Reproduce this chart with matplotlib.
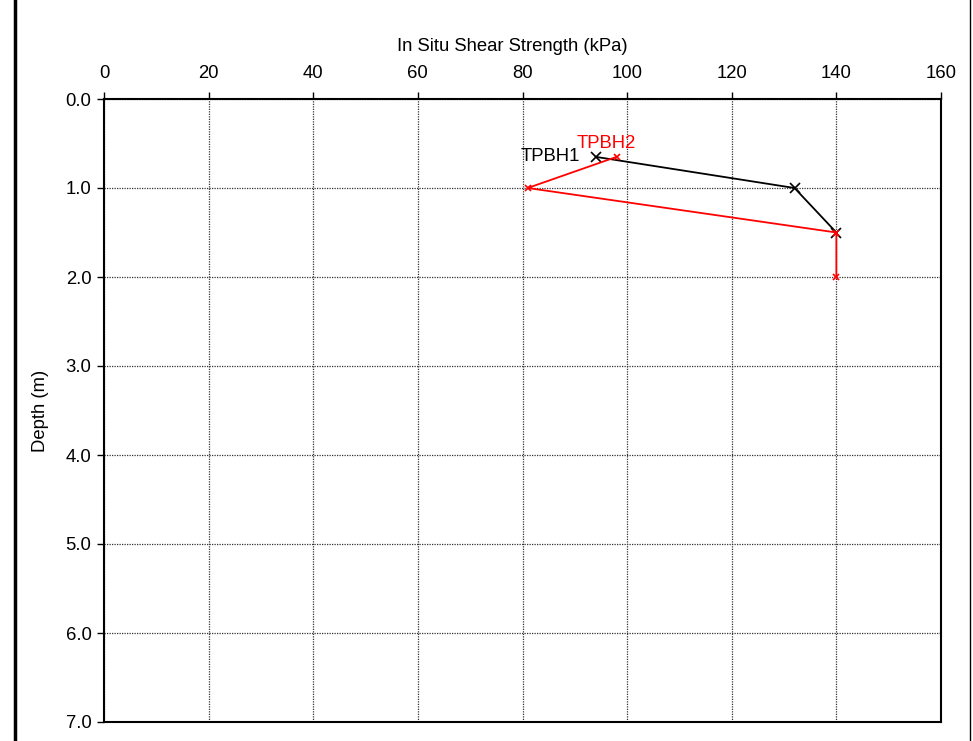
import numpy as np
import matplotlib.pyplot as plt
from matplotlib.lines import Line2D

plt.rcParams['font.family'] = ['Liberation Sans', 'DejaVu Sans']

## data
tpbh1_strength = [94, 132, 140]
tpbh1_depth = [0.65, 1.0, 1.5]
tpbh2_strength = [98, 81, 140, 140]
tpbh2_depth = [0.65, 1.0, 1.5, 2.0]

x_ticks = [0, 20, 40, 60, 80, 100, 120, 140, 160]
y_ticks = [0, 1, 2, 3, 4, 5, 6, 7]

fs = 13.3

fig = plt.figure(figsize=(9.73, 7.41), dpi=100)
ax = fig.add_axes([104/973, 1-722/741, (941-104)/973, (722-99)/741])

ax.plot(tpbh1_strength, tpbh1_depth, color='black', lw=1.3, marker='x', ms=7, mew=1.2)
ax.plot(tpbh2_strength, tpbh2_depth, color='red', lw=1.3, marker='x', ms=4.5, mew=1.2)

ax.text(tpbh1_strength[0] - 3, tpbh1_depth[0], 'TPBH1', color='black', fontsize=fs,
        ha='right', va='center')
ax.text(tpbh2_strength[0] - 2, tpbh2_depth[0] - 0.05, 'TPBH2', color='red', fontsize=fs,
        ha='center', va='bottom')

ax.set_xlim(0, 160)
ax.set_ylim(7, 0)
ax.set_xticks(x_ticks)
ax.set_yticks(y_ticks)
ax.set_yticklabels(['%.1f' % v for v in y_ticks])
ax.xaxis.tick_top()
ax.xaxis.set_label_position('top')
ax.tick_params(axis='both', labelsize=fs, direction='out', length=5, width=1)
ax.tick_params(axis='x', pad=7)
ax.tick_params(axis='y', pad=4)
ax.set_xlabel('In Situ Shear Strength (kPa)', fontsize=fs, labelpad=11)
ax.xaxis.set_label_coords(0.4875, 1.0 + 48/623)
ax.set_ylabel('Depth (m)', fontsize=fs, labelpad=12)
ax.grid(True, color='#333333', linestyle=(0, (1, 1)), linewidth=0.9)
for s in ax.spines.values():
    s.set_linewidth(1.5)

## outer frame lines
fig.add_artist(Line2D([15/973, 15/973], [0, 1], color='black', lw=2.5, transform=fig.transFigure))
fig.add_artist(Line2D([970/973, 970/973], [0, 1], color='black', lw=1, transform=fig.transFigure))

fig.savefig('out.png', dpi=100)
